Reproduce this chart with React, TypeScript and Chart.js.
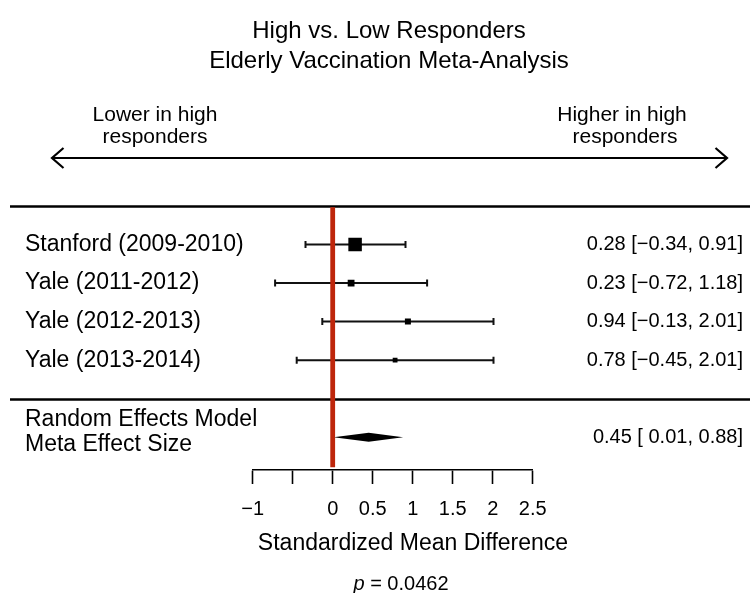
import React, { useEffect, useRef } from "react";
import { Chart, registerables } from "chart.js";

Chart.register(...registerables);

// ---- data ----
const titleLines = ["High vs. Low Responders", "Elderly Vaccination Meta-Analysis"];
const studies = ["Stanford (2009-2010)", "Yale (2011-2012)", "Yale (2012-2013)", "Yale (2013-2014)"];
const estimates = [0.28, 0.23, 0.94, 0.78];
const lowerCI = [-0.34, -0.72, -0.13, -0.45];
const upperCI = [0.91, 1.18, 2.01, 2.01];
const metaLabel = ["Random Effects Model", "Meta Effect Size"];
const metaEstimate = 0.45;
const metaLower = 0.01;
const metaUpper = 0.88;
const pValue = "0.0462";
const nullEffect = 0;
const axisTicks = [-1, -0.5, 0, 0.5, 1, 1.5, 2, 2.5];
const unlabeledTicks = [-0.5];
const leftArrowLabel = ["Lower in high", "responders"];
const rightArrowLabel = ["Higher in high", "responders"];
const axisTitle = "Standardized Mean Difference";

// ---- styles ----
const squareSides = [13.5, 6.8, 6, 4.8];
const RED = "#be260b";
const FONT = "'Liberation Sans', Arial, Helvetica, sans-serif";

const fmtNum = (v: number, pad: boolean) => {
  const s = Math.abs(v).toFixed(2);
  if (v < 0) return "\u2212" + s;
  return (pad ? " " : "") + s;
};
const anyNegLower = lowerCI.some((v) => v < 0) || metaLower < 0;
const ciText = (e: number, l: number, u: number) =>
  `${e.toFixed(2)} [${fmtNum(l, anyNegLower)}, ${fmtNum(u, false)}]`;
const tickFmt = (v: number) => {
  if (unlabeledTicks.includes(v)) return "";
  const s = String(Math.abs(v));
  return v < 0 ? "\u2212" + s : s;
};

const forestPlugin = {
  id: "forest",
  beforeDatasetsDraw(chart: any) {
    const { ctx, scales } = chart;
    const x = scales.x;
    const y = scales.y;
    ctx.save();
    // separators
    ctx.strokeStyle = "#000";
    ctx.lineWidth = 2.3;
    [y.min, studies.length].forEach((v) => {
      const py = Math.round(y.getPixelForValue(v)) + 0.5;
      ctx.beginPath();
      ctx.moveTo(10, py);
      ctx.lineTo(750, py);
      ctx.stroke();
    });
    // direction arrow
    const ay = 158;
    ctx.lineWidth = 2.2;
    ctx.beginPath();
    ctx.moveTo(52, ay);
    ctx.lineTo(727, ay);
    ctx.stroke();
    ctx.beginPath();
    ctx.moveTo(63.5, ay - 10);
    ctx.lineTo(52, ay);
    ctx.lineTo(63.5, ay + 10);
    ctx.moveTo(715.5, ay - 10);
    ctx.lineTo(727, ay);
    ctx.lineTo(715.5, ay + 10);
    ctx.stroke();
    // error bars
    ctx.strokeStyle = "#111";
    ctx.lineWidth = 2;
    studies.forEach((_, i) => {
      const py = y.getPixelForValue(i);
      const x1 = x.getPixelForValue(lowerCI[i]);
      const x2 = x.getPixelForValue(upperCI[i]);
      ctx.beginPath();
      ctx.moveTo(x1, py);
      ctx.lineTo(x2, py);
      ctx.moveTo(x1, py - 3.5);
      ctx.lineTo(x1, py + 3.5);
      ctx.moveTo(x2, py - 3.5);
      ctx.lineTo(x2, py + 3.5);
      ctx.stroke();
    });
    // summary diamond
    const dy = y.getPixelForValue(studies.length + 1);
    ctx.fillStyle = "#000";
    ctx.beginPath();
    ctx.moveTo(x.getPixelForValue(metaLower), dy);
    ctx.lineTo(x.getPixelForValue(metaEstimate), dy - 4.5);
    ctx.lineTo(x.getPixelForValue(metaUpper), dy);
    ctx.lineTo(x.getPixelForValue(metaEstimate), dy + 4.5);
    ctx.closePath();
    ctx.fill();
    ctx.restore();
  },
  afterDraw(chart: any) {
    const { ctx, scales } = chart;
    const y = scales.y;
    ctx.save();
    ctx.fillStyle = "#000";
    ctx.textBaseline = "middle";
    const txt = (s: string, px: number, py: number, size: number, align: CanvasTextAlign) => {
      ctx.font = `${size}px ${FONT}`;
      ctx.textAlign = align;
      ctx.fillText(s, px, py);
    };
    // title
    txt(titleLines[0], 389, 31.5, 24, "center");
    txt(titleLines[1], 389, 61.5, 24, "center");
    // arrow labels
    txt(leftArrowLabel[0], 155, 115, 21, "center");
    txt(leftArrowLabel[1], 155, 137, 21, "center");
    txt(rightArrowLabel[0], 622, 115, 21, "center");
    txt(rightArrowLabel[1], 625, 137, 21, "center");
    // study rows
    studies.forEach((s, i) => {
      const py = y.getPixelForValue(i);
      txt(s, 25, py, 23, "left");
      txt(ciText(estimates[i], lowerCI[i], upperCI[i]), 743, py, 20, "right");
    });
    // meta row
    const dy = y.getPixelForValue(studies.length + 1);
    txt(metaLabel[0], 25, dy - 17.5, 23, "left");
    txt(metaLabel[1], 25, dy + 7.5, 23, "left");
    txt(ciText(metaEstimate, metaLower, metaUpper), 743, dy, 20, "right");
    // axis title
    txt(axisTitle, 413, 544, 23, "center");
    // p value
    ctx.font = `italic 20px ${FONT}`;
    const pw = ctx.measureText("p").width;
    ctx.font = `20px ${FONT}`;
    const rest = " = " + pValue;
    const rw = ctx.measureText(rest).width;
    const start = 401 - (pw + rw) / 2;
    ctx.textAlign = "left";
    ctx.font = `italic 20px ${FONT}`;
    ctx.fillText("p", start, 584);
    ctx.font = `20px ${FONT}`;
    ctx.fillText(rest, start + pw, 584);
    ctx.restore();
  },
};

export default function App() {
  const ref = useRef<HTMLCanvasElement | null>(null);
  useEffect(() => {
    if (!ref.current) return;
    const chart = new Chart(ref.current, {
      type: "scatter",
      data: {
        datasets: [
          {
            type: "scatter",
            data: estimates.map((v, i) => ({ x: v, y: i })),
            pointStyle: "rect",
            pointRadius: squareSides.map((s) => s / Math.SQRT2),
            backgroundColor: "#000",
            borderWidth: 0,
            order: 1,
          } as any,
          {
            type: "line",
            data: [
              { x: nullEffect, y: -0.97 },
              { x: nullEffect, y: 5.78 },
            ],
            borderColor: RED,
            borderWidth: 4.8,
            pointRadius: 0,
            fill: false,
            order: 2,
          } as any,
        ],
      },
      options: {
        animation: false,
        responsive: false,
        devicePixelRatio: 1,
        events: [],
        layout: { padding: { left: 252.7, right: 217.3, top: 206, bottom: 73 } },
        plugins: {
          legend: { display: false },
          tooltip: { enabled: false },
          title: { display: false },
        },
        scales: {
          x: {
            type: "linear",
            position: "bottom",
            min: axisTicks[0],
            max: axisTicks[axisTicks.length - 1],
            afterBuildTicks: (scale: any) => {
              scale.ticks = axisTicks.map((v) => ({ value: v }));
            },
            afterFit: (scale: any) => {
              scale.height = 50;
            },
            ticks: {
              autoSkip: false,
              maxRotation: 0,
              padding: 13,
              color: "#000",
              font: { family: FONT, size: 20 },
              callback: (v: any) => tickFmt(Number(v)),
            },
            grid: {
              drawOnChartArea: false,
              drawTicks: true,
              tickLength: 14,
              tickColor: "#000",
              tickWidth: 1.6,
              color: "#000",
            },
            border: { display: true, color: "#000", width: 1.6 },
          },
          y: {
            type: "linear",
            display: false,
            reverse: true,
            min: -1,
            max: 5.85,
          },
        },
      } as any,
      plugins: [forestPlugin],
    });
    return () => chart.destroy();
  }, []);
  return (
    <div style={{ position: "absolute", left: 0, top: 0, width: 750, height: 593, background: "#fff" }}>
      <canvas ref={ref} width={750} height={593} style={{ width: 750, height: 593, display: "block" }} />
    </div>
  );
}
